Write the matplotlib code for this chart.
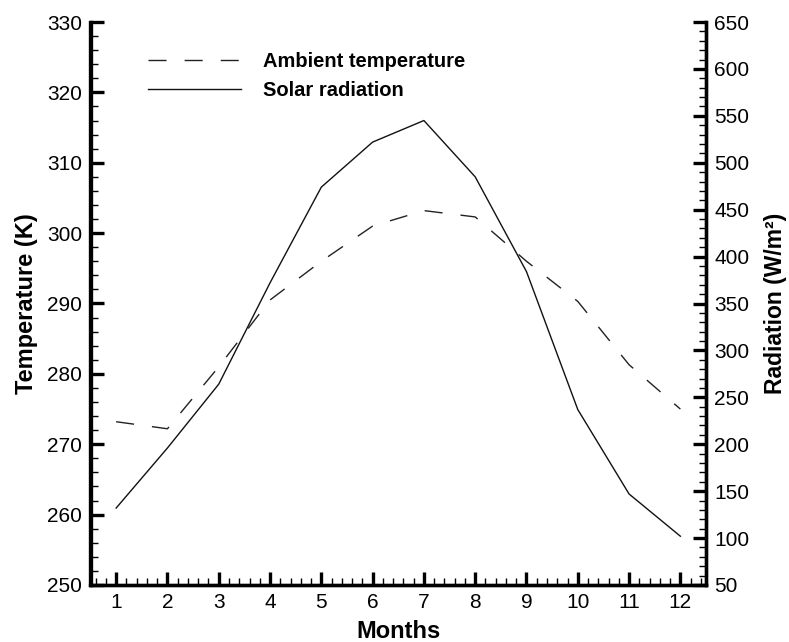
import matplotlib
matplotlib.use("Agg")
import matplotlib.pyplot as plt
from matplotlib.ticker import MultipleLocator
from matplotlib.lines import Line2D

months = [1, 2, 3, 4, 5, 6, 7, 8, 9, 10, 11, 12]
temperature = [273.2, 272.2, 281.0, 290.5, 296.0, 301.0, 303.2, 302.3, 296.0, 290.3, 281.3, 275.0]
radiation = [132, 196, 264, 372, 474, 522, 545, 485, 384, 237, 147, 102]

plt.rcParams['font.family'] = ['Liberation Sans', 'DejaVu Sans']

W, H = 789, 642
fig = plt.figure(figsize=(W / 100, H / 100), dpi=100)
L, R, B, T = 90.5, 706, 585, 22
ax = fig.add_axes([L / W, 1 - B / H, (R - L) / W, (B - T) / H])
ax2 = ax.twinx()

ax.plot(months, temperature, color='#222222', lw=1.0, dashes=(13, 13))
ax2.plot(months, radiation, color='#111111', lw=1.0)

ax.set_xlim(0.5, 12.5)
ax.set_ylim(250, 330)
ax2.set_ylim(50, 650)

ax.xaxis.set_major_locator(MultipleLocator(1))
ax.xaxis.set_minor_locator(MultipleLocator(0.2))
ax.yaxis.set_major_locator(MultipleLocator(10))
ax.yaxis.set_minor_locator(MultipleLocator(2))
ax2.yaxis.set_major_locator(MultipleLocator(50))
ax2.yaxis.set_minor_locator(MultipleLocator(10))

for a in (ax, ax2):
    a.spines['top'].set_visible(False)
    for s in ('left', 'right', 'bottom'):
        a.spines[s].set_linewidth(2.4)
    a.tick_params(which='major', direction='in', length=9.5, width=2.4, labelsize=15, pad=6)
    a.tick_params(which='minor', direction='in', length=5, width=1.0)
ax.tick_params(axis='y', which='both', right=False)
ax.tick_params(axis='x', which='both', top=False)
ax2.tick_params(axis='y', which='both', left=False)

ax.set_xlabel('Months', fontsize=17, fontweight='bold')
ax.xaxis.set_label_coords(0.5, -0.062)
ax.set_ylabel('Temperature (K)', fontsize=17, fontweight='bold')
ax.yaxis.set_label_coords(-0.085, 0.5)
ax2.set_ylabel('Radiation (W/m²)', fontsize=16.5, fontweight='bold')
ax2.yaxis.set_label_coords(1.094, 0.5)

handles = [Line2D([], [], color='#222222', lw=1.0, dashes=(13, 13)),
           Line2D([], [], color='#111111', lw=1.0)]
ax.legend(handles, ['Ambient temperature', 'Solar radiation'], loc='upper left',
          bbox_to_anchor=(148 / W, 1 - 52 / H), bbox_transform=fig.transFigure,
          frameon=False, borderpad=0, borderaxespad=0, handlelength=4.6,
          handletextpad=1.1, labelspacing=0.5,
          prop={'weight': 'bold', 'size': 14.5, 'family': 'Liberation Sans'})

fig.savefig('out.png', dpi=100)
